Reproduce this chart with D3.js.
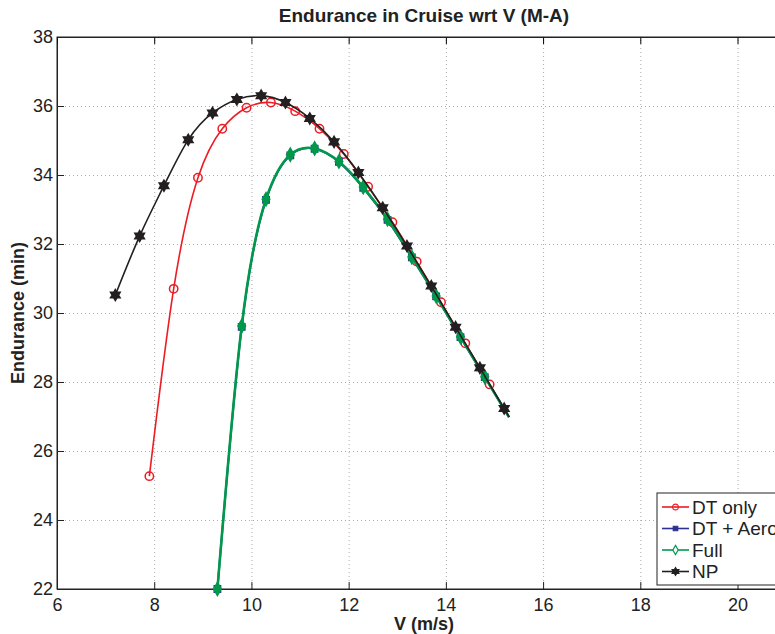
<!DOCTYPE html>
<html>
<head>
<meta charset="utf-8">
<script src="https://cdn.jsdelivr.net/npm/d3@7"></script>
<style>
  body { margin: 0; background: #fff; }
  text { font-family: "Liberation Sans", Arial, sans-serif; }
</style>
</head>
<body>
<div id="endurance"></div>
<script>
// values
const seriesNames = ["DT only", "DT + Aero", "Full", "NP"];
const dtV = [7.9, 8.4, 8.9, 9.4, 9.9, 10.4, 10.9, 11.4, 11.9, 12.4, 12.9, 13.4, 13.9, 14.4, 14.9];
const dtE = [25.27, 30.70, 33.92, 35.34, 35.95, 36.10, 35.85, 35.34, 34.61, 33.66, 32.63, 31.49, 30.31, 29.12, 27.93];
const aeroV = [9.3, 9.8, 10.3, 10.8, 11.3, 11.8, 12.3, 12.8, 13.3, 13.8, 14.3, 14.8];
const aeroE = [22.0, 29.60, 33.28, 34.57, 34.76, 34.38, 33.63, 32.70, 31.61, 30.48, 29.30, 28.14];
const fullV = [9.3, 9.8, 10.3, 10.8, 11.3, 11.8, 12.3, 12.8, 13.3, 13.8, 14.3, 14.8];
const fullE = [22.0, 29.62, 33.30, 34.59, 34.77, 34.39, 33.65, 32.72, 31.62, 30.49, 29.31, 28.15];
const npV = [7.2, 7.7, 8.2, 8.7, 9.2, 9.7, 10.2, 10.7, 11.2, 11.7, 12.2, 12.7, 13.2, 13.7, 14.2, 14.7, 15.2];
const npE = [30.52, 32.23, 33.69, 35.02, 35.80, 36.19, 36.30, 36.10, 35.64, 34.96, 34.07, 33.05, 31.94, 30.78, 29.59, 28.41, 27.23];
// the lines run a little past the last marker
const lineEndV = 15.3;
const lineEndE = [26.98, 26.98, 26.98, 27.01];
const xTicks = [6, 8, 10, 12, 14, 16, 18, 20];
const yTicks = [22, 24, 26, 28, 30, 32, 34, 36, 38];

const margin = {top: 37, right: 0, bottom: 45, left: 57},
    width = 734,
    height = 552;

let svg = d3.select("#endurance")
  .append("svg")
    .attr("width", 775)
    .attr("height", 634)
  .append("g")
    .attr("transform", "translate(" + margin.left + "," + margin.top + ")");

let x = d3.scaleLinear([6, 21.1], [0, width]);
let y = d3.scaleLinear([22, 38], [height, 0]);

// dotted grid
svg.append("g")
  .attr("transform", `translate(0,${height})`)
  .call(d3.axisBottom(x).tickValues(xTicks).tickSize(-height).tickFormat(""))
  .call(g => g.select(".domain").remove())
  .selectAll("line")
    .attr("stroke", "#aaa")
    .attr("stroke-dasharray", "1,3");
svg.append("g")
  .call(d3.axisLeft(y).tickValues(yTicks).tickSize(-width).tickFormat(""))
  .call(g => g.select(".domain").remove())
  .selectAll("line")
    .attr("stroke", "#aaa")
    .attr("stroke-dasharray", "1,3");

// axes with inward ticks
let xAxis = svg.append("g")
  .attr("transform", `translate(0,${height})`)
  .call(d3.axisBottom(x).tickValues(xTicks).tickSize(-7).tickPadding(9));
let yAxis = svg.append("g")
  .call(d3.axisLeft(y).tickValues(yTicks).tickSize(-7).tickPadding(4));
svg.append("g")
  .call(d3.axisTop(x).tickValues(xTicks).tickSize(-7).tickFormat(""));
[xAxis, yAxis].forEach(a => {
  a.selectAll("text")
    .style("font-size", "18px")
    .attr("fill", "#222");
  a.selectAll("line").attr("stroke", "#222");
});
svg.selectAll(".domain").attr("stroke", "#222");
svg.append("rect")
  .attr("width", width)
  .attr("height", height)
  .attr("fill", "none")
  .attr("stroke", "#222");

// six-pointed star for NP
const hexagram = {
  draw(ctx, size) {
    let r = Math.sqrt(size) * 0.62;
    for (let i = 0; i < 12; i++) {
      let a = i * Math.PI / 6 - Math.PI / 2;
      let rr = i % 2 ? r * 0.58 : r;
      if (i == 0) ctx.moveTo(rr * Math.cos(a), rr * Math.sin(a));
      else ctx.lineTo(rr * Math.cos(a), rr * Math.sin(a));
    }
    ctx.closePath();
  }
};

let series = [
  {name: seriesNames[0], v: dtV, e: dtE, end: lineEndE[0], color: "#ed1c24", width: 1.6,
   symbol: d3.symbolCircle, size: 55, fill: "none"},
  {name: seriesNames[1], v: aeroV, e: aeroE, end: lineEndE[1], color: "#2e3192", width: 2,
   symbol: d3.symbolSquare, size: 40, fill: "#2e3192"},
  {name: seriesNames[2], v: fullV, e: fullE, end: lineEndE[2], color: "#00994c", width: 2.6,
   symbol: d3.symbolDiamond, size: 50, fill: "#00994c"},
  {name: seriesNames[3], v: npV, e: npE, end: lineEndE[3], color: "#231f20", width: 1.6,
   symbol: hexagram, size: 80, fill: "#231f20"}
];

let line = d3.line()
  .x(d => x(d[0]))
  .y(d => y(d[1]))
  .curve(d3.curveNatural);

svg.append("clipPath")
    .attr("id", "plotclip")
  .append("rect")
    .attr("width", width)
    .attr("height", height);

series.forEach(s => {
  let pts = s.v.map((v, i) => [v, s.e[i]]);
  svg.append("path")
    .datum(pts.concat([[lineEndV, s.end]]))
    .attr("clip-path", "url(#plotclip)")
    .attr("fill", "none")
    .attr("stroke", s.color)
    .attr("stroke-width", s.width)
    .attr("d", line);
  svg.append("g")
    .selectAll("path")
    .data(pts)
    .enter().append("path")
      .attr("transform", d => `translate(${x(d[0])},${y(d[1])})`)
      .attr("d", d3.symbol(s.symbol, s.size))
      .attr("fill", s.fill)
      .attr("stroke", s.color)
      .attr("stroke-width", 1.5);
});

// title and labels
svg.append("text")
  .attr("x", width / 2)
  .attr("y", -15)
  .attr("text-anchor", "middle")
  .style("font-size", "19px")
  .style("font-weight", "bold")
  .attr("fill", "#222")
  .text("Endurance in Cruise wrt V (M-A)");
svg.append("text")
  .attr("x", width / 2)
  .attr("y", height + 41)
  .attr("text-anchor", "middle")
  .style("font-size", "18px")
  .style("font-weight", "bold")
  .attr("fill", "#222")
  .text("V (m/s)");
svg.append("text")
  .attr("transform", "rotate(-90)")
  .attr("x", -height / 2)
  .attr("y", -33)
  .attr("text-anchor", "middle")
  .style("font-size", "18px")
  .style("font-weight", "bold")
  .attr("fill", "#222")
  .text("Endurance (min)");

// legend
let legend = svg.append("g")
  .attr("transform", "translate(600,456)");
legend.append("rect")
  .attr("width", 160)
  .attr("height", 92)
  .attr("fill", "#fff")
  .attr("stroke", "#222");
let item = legend.selectAll(".item")
  .data(series)
  .join("g")
    .attr("transform", (d, i) => `translate(0,${14 + i * 21.5})`);
item.append("line")
  .attr("x1", 5)
  .attr("x2", 32)
  .attr("stroke", d => d.color)
  .attr("stroke-width", 1.6);
item.append("path")
  .attr("transform", "translate(18.5,0)")
  .attr("d", d => d3.symbol(d.symbol, d.size * 0.5)())
  .attr("fill", d => d.symbol === d3.symbolDiamond ? "#fff" : d.fill)
  .attr("stroke", d => d.color)
  .attr("stroke-width", 1.2);
item.append("text")
  .attr("x", 35)
  .attr("dy", "0.35em")
  .style("font-size", "19px")
  .attr("fill", "#222")
  .text(d => d.name);
</script>
</body>
</html>
